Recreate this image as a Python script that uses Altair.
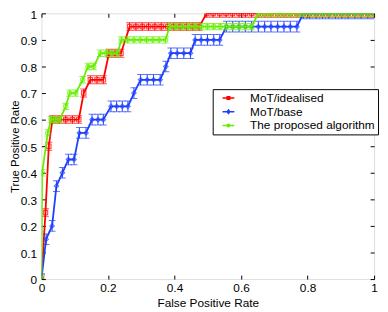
import altair as alt
import pandas as pd

SERIES = ["MoT/idealised", "MoT/base", "The proposed algorithm"]
COLORS = ["#ff0000", "#1f3fff", "#66ee00"]
PLOT_SHAPES = ["square", "diamond", "circle"]
ERRS = [0.015, 0.02, 0.012]

red_fpr = [0.000, 0.012, 0.022, 0.033, 0.053, 0.073, 0.093, 0.112, 0.127, 0.147,
           0.167, 0.186, 0.203, 0.221, 0.239, 0.265, 0.284, 0.303, 0.322, 0.341,
           0.360, 0.379, 0.398, 0.417, 0.436, 0.455, 0.474,
           0.497, 0.516, 0.536, 0.555, 0.574, 0.594, 0.613, 0.632, 0.652, 0.671,
           0.690, 0.710, 0.729, 0.748, 0.768, 0.787, 0.806, 0.826, 0.845, 0.864,
           0.884, 0.903, 0.922, 0.942, 0.961, 0.981, 1.000]
red_tpr = [0, 0.25, 0.5, 0.6, 0.6, 0.6, 0.6, 0.6, 0.7, 0.75,
           0.75, 0.75, 0.85, 0.85, 0.85, 0.95, 0.95, 0.95, 0.95, 0.95,
           0.95, 0.95, 0.95, 0.95, 0.95, 0.95, 0.95,
           1, 1, 1, 1, 1, 1, 1, 1, 1, 1,
           1, 1, 1, 1, 1, 1, 1, 1, 1, 1,
           1, 1, 1, 1, 1, 1, 1]

blue_fpr = [0.000, 0.014, 0.032, 0.045, 0.063, 0.081, 0.098, 0.114, 0.134, 0.152,
            0.170, 0.186, 0.209, 0.226, 0.243, 0.260, 0.278, 0.298, 0.318, 0.337,
            0.357, 0.374, 0.389, 0.408, 0.428, 0.448, 0.462, 0.480, 0.499, 0.518,
            0.536, 0.556, 0.575, 0.594, 0.613, 0.632, 0.652, 0.671, 0.690, 0.710,
            0.729, 0.748, 0.768, 0.787, 0.806, 0.826, 0.845, 0.864, 0.884, 0.903,
            0.922, 0.942, 0.961, 0.981, 1.000]
blue_tpr = [0, 0.15, 0.2, 0.35, 0.4, 0.45, 0.45, 0.55, 0.55, 0.6,
            0.6, 0.6, 0.65, 0.65, 0.65, 0.65, 0.7, 0.75, 0.75, 0.75,
            0.75, 0.8, 0.85, 0.85, 0.85, 0.85, 0.9, 0.9, 0.9, 0.9,
            0.9, 0.95, 0.95, 0.95, 0.95, 0.95, 0.95, 0.95, 0.95, 0.95,
            0.95, 0.95, 0.95, 1, 1, 1, 1, 1, 1, 1,
            1, 1, 1, 1, 1]

green_fpr = [0.000, 0.002, 0.019, 0.029, 0.042, 0.055, 0.073, 0.085, 0.103, 0.124,
             0.140, 0.157, 0.177, 0.194, 0.211, 0.229, 0.240, 0.259, 0.278, 0.297,
             0.316, 0.335, 0.354, 0.373, 0.385, 0.404, 0.423, 0.442, 0.461, 0.480,
             0.499, 0.518, 0.537, 0.556, 0.575, 0.594, 0.613, 0.632, 0.652, 0.671,
             0.690, 0.710, 0.729, 0.748, 0.768, 0.787, 0.806, 0.826, 0.845, 0.864,
             0.884, 0.903, 0.922, 0.942, 0.961, 0.981, 1.000]
green_tpr = [0, 0.4, 0.55, 0.6, 0.6, 0.6, 0.65, 0.7, 0.7, 0.75,
             0.8, 0.8, 0.85, 0.85, 0.85, 0.85, 0.9, 0.9, 0.9, 0.9,
             0.9, 0.9, 0.9, 0.9, 0.95, 0.95, 0.95, 0.95, 0.95, 0.95,
             0.95, 0.95, 0.95, 0.95, 0.95, 0.95, 0.95, 0.95, 1, 1,
             1, 1, 1, 1, 1, 1, 1, 1, 1, 1,
             1, 1, 1, 1, 1, 1, 1]

X_TICKS = [0, 0.2, 0.4, 0.6, 0.8, 1]
Y_TICKS = [0, 0.1, 0.2, 0.3, 0.4, 0.5, 0.6, 0.7, 0.8, 0.9, 1]

W, H = 338, 270
FONT = "Liberation Sans"

LEGEND_PATHS = [
    "M-1.2,0L1.2,0M-0.25,-0.25L0.25,-0.25L0.25,0.25L-0.25,0.25Z",
    "M-1.2,0L1.2,0M0,-0.36L0.26,0L0,0.36L-0.26,0Z",
    "M-1.2,0L1.2,0M-0.26,0A0.26,0.26,0,1,0,0.26,0A0.26,0.26,0,1,0,-0.26,0Z",
]

xs = alt.Scale(domain=[0, 1], nice=False, zero=False)
ys = alt.Scale(domain=[0, 1], nice=False, zero=False)

main_x = alt.Axis(values=X_TICKS, format="~g", ticks=False, tickSize=0, domain=False,
                  grid=False, labelPadding=4, labelFlush=False, labelOverlap=False,
                  title="False Positive Rate", titlePadding=4, titleFontWeight="normal",
                  labelFontSize=12, titleFontSize=12, labelFont=FONT, titleFont=FONT,
                  labelColor="black", titleColor="black")
main_y = alt.Axis(values=Y_TICKS, format="~g", ticks=False, tickSize=0, domain=False,
                  grid=False, labelPadding=5, labelFlush=False, labelOverlap=False,
                  labelOffset=1,
                  title="True Positive Rate", titleFontWeight="normal",
                  titleX=-32, titleY=H / 2, titleAngle=270, titleBaseline="top",
                  titleAlign="center",
                  labelFontSize=12, titleFontSize=11.5, labelFont=FONT, titleFont=FONT,
                  labelColor="black", titleColor="black")


def tick_axis(values, orient, offset):
    return alt.Axis(values=values, orient=orient, offset=offset, labels=False,
                    domain=False, grid=False, ticks=True, tickSize=4,
                    tickColor="black", tickWidth=1, title=None)


ax_x_up = tick_axis(X_TICKS, "top", -H)      # ticks on bottom edge pointing up
ax_x_down = tick_axis(X_TICKS, "bottom", -H)  # ticks on top edge pointing down
ax_y_right = tick_axis(Y_TICKS, "right", -W)  # ticks on left edge pointing right
ax_y_left = tick_axis(Y_TICKS, "left", -W)    # ticks on right edge pointing left

layers = []
data = [(red_fpr, red_tpr), (blue_fpr, blue_tpr), (green_fpr, green_tpr)]
for i, (name, color, shape, err) in enumerate(zip(SERIES, COLORS, PLOT_SHAPES, ERRS)):
    fpr, tpr = data[i]
    df = pd.DataFrame({"fpr": fpr, "tpr": tpr})
    df["lo"] = df["tpr"] - err
    df["hi"] = df["tpr"] + err
    base = alt.Chart(df)
    first = i == 0
    line = base.mark_line(color=color, strokeWidth=1.8, clip=True).encode(
        x=alt.X("fpr:Q", scale=xs, axis=main_x if first else None),
        y=alt.Y("tpr:Q", scale=ys, axis=main_y if first else None),
    )
    rule = base.mark_rule(color=color, strokeWidth=1, clip=True).encode(
        x=alt.X("fpr:Q", scale=xs, axis=ax_x_up if first else None),
        y=alt.Y("lo:Q", scale=ys, axis=ax_y_right if first else None),
        y2="hi:Q",
    )
    cap_lo = base.mark_tick(color=color, orient="horizontal", size=7, thickness=1, clip=True).encode(
        x=alt.X("fpr:Q", scale=xs, axis=ax_x_down if first else None),
        y=alt.Y("lo:Q", scale=ys, axis=ax_y_left if first else None),
    )
    cap_hi = base.mark_tick(color=color, orient="horizontal", size=7, thickness=1, clip=True).encode(
        x=alt.X("fpr:Q", scale=xs, axis=None),
        y=alt.Y("hi:Q", scale=ys, axis=None),
    )
    pts = base.mark_point(shape=shape, filled=False, color=color, size=20, strokeWidth=1.2, clip=True).encode(
        x=alt.X("fpr:Q", scale=xs, axis=None),
        y=alt.Y("tpr:Q", scale=ys, axis=None),
    )
    layers += [rule, cap_lo, cap_hi, line, pts]

leg_df = pd.DataFrame({"series": SERIES, "fpr": [0, 0, 0], "tpr": [0, 0, 0]})
legend = alt.Legend(orient="none", legendX=174, legendY=77, title=None,
                    strokeColor="black", fillColor="white", padding=3, rowPadding=2,
                    symbolSize=100, symbolStrokeWidth=1.5, symbolOpacity=1,
                    symbolOffset=7, labelOffset=16,
                    labelFontSize=12, labelFont=FONT, labelColor="black",
                    cornerRadius=0)
leg = alt.Chart(leg_df).mark_point(opacity=0, filled=False).encode(
    x=alt.X("fpr:Q", scale=xs, axis=None),
    y=alt.Y("tpr:Q", scale=ys, axis=None),
    color=alt.Color("series:N", scale=alt.Scale(domain=SERIES, range=COLORS), legend=legend),
    shape=alt.Shape("series:N", scale=alt.Scale(domain=SERIES, range=LEGEND_PATHS), legend=legend),
)
layers.append(leg)

chart = alt.layer(*layers).resolve_axis(x="independent", y="independent").properties(
    width=W, height=H, autosize="none",
    padding={"left": 34, "top": 3, "right": 6, "bottom": 30},
).configure_view(stroke="black", strokeWidth=1).configure(background="white")

chart.save("out.html", embed_options={"renderer": "svg", "actions": False})
